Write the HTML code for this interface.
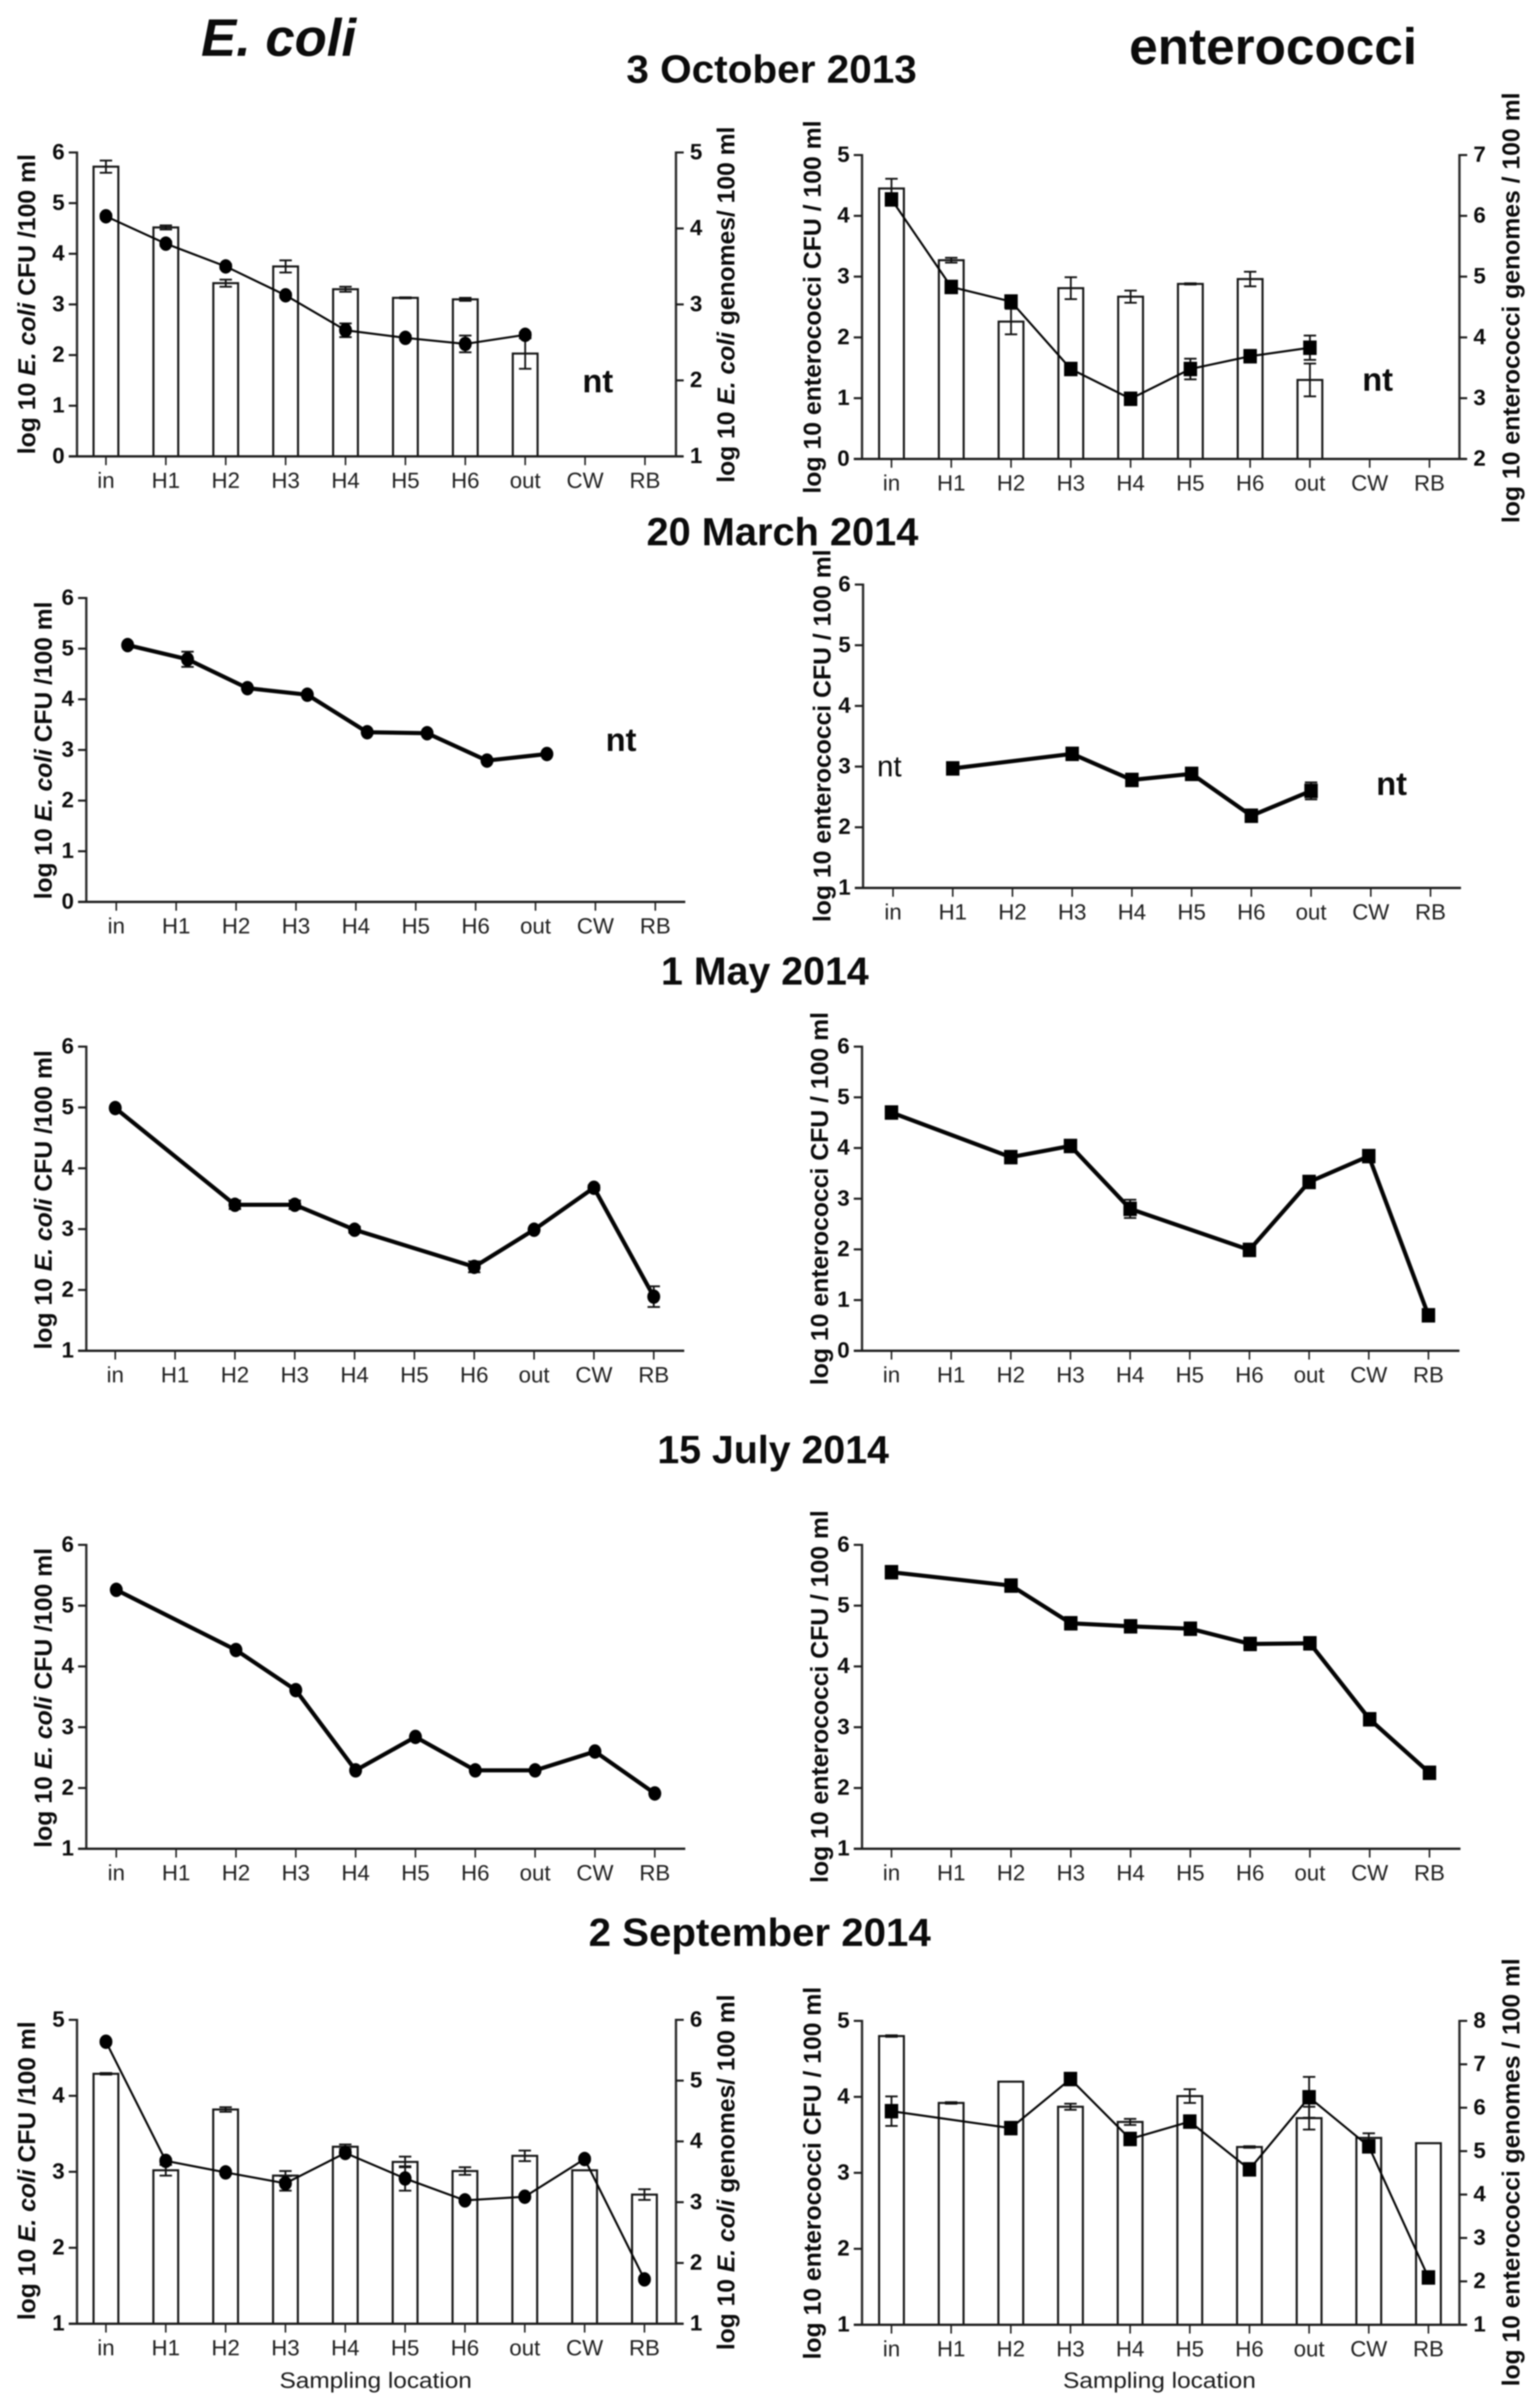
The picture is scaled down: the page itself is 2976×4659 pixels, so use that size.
<!DOCTYPE html>
<html lang="en">
<head>
<meta charset="utf-8">
<title>E. coli and enterococci by sampling location</title>
<style>
  html, body { margin: 0; padding: 0; background: #fff; }
  #figure { display: block; width: 2976px; height: 4659px; filter: blur(1.2px); font-family: "Liberation Sans", Arial, sans-serif; }
  text { fill: #0c0c0c; }
  .date-title { font-size: 76px; font-weight: 700; }
  .col-title { font-weight: 700; }
  .y-title { font-size: 47px; font-weight: 700; }
  .x-title { font-size: 43px; font-weight: 400; fill: #1a1a1a; }
  .nt-bold { font-size: 63px; font-weight: 700; }
  .nt-plain { font-size: 57px; font-weight: 400; }
  .ytick-label { font-size: 43px; font-weight: 700; }
  .xtick-label { font-size: 43px; font-weight: 400; fill: #1f1f1f; }
</style>
</head>
<body>
<svg id="figure" xmlns="http://www.w3.org/2000/svg" width="2976" height="4659" viewBox="0 0 2976 4659">
  <rect x="0" y="0" width="2976" height="4659" fill="#ffffff"/>

  <text class="col-title" x="389" y="108" font-size="102" font-style="italic" textLength="300" lengthAdjust="spacingAndGlyphs">E. coli</text>
  <text class="col-title" x="2185" y="124" font-size="99" textLength="557" lengthAdjust="spacingAndGlyphs">enterococci</text>

  <text class="date-title" x="1212" y="160" textLength="562" lengthAdjust="spacingAndGlyphs">3 October 2013</text>
  <text class="date-title" x="1251" y="1055" textLength="526" lengthAdjust="spacingAndGlyphs">20 March 2014</text>
  <text class="date-title" x="1279" y="1905" textLength="402" lengthAdjust="spacingAndGlyphs">1 May 2014</text>
  <text class="date-title" x="1272" y="2831" textLength="448" lengthAdjust="spacingAndGlyphs">15 July 2014</text>
  <text class="date-title" x="1139" y="3765" textLength="662" lengthAdjust="spacingAndGlyphs">2 September 2014</text>

  <!-- Row 1 axis titles -->
  <text class="y-title" transform="translate(68,879) rotate(-90)" textLength="581" lengthAdjust="spacingAndGlyphs">log 10 <tspan font-style="italic">E. coli</tspan> CFU /100 ml</text>
  <text class="y-title" transform="translate(1421,934) rotate(-90)" textLength="689" lengthAdjust="spacingAndGlyphs">log 10 <tspan font-style="italic">E. coli</tspan> genomes/ 100 ml</text>
  <text class="y-title" transform="translate(1588,955) rotate(-90)" textLength="722" lengthAdjust="spacingAndGlyphs">log 10 enterococci CFU / 100 ml</text>
  <text class="y-title" transform="translate(2940,1012) rotate(-90)" textLength="833" lengthAdjust="spacingAndGlyphs">log 10 enterococci genomes / 100 ml</text>

  <!-- Row 2 axis titles -->
  <text class="y-title" transform="translate(100,1740) rotate(-90)" textLength="576" lengthAdjust="spacingAndGlyphs">log 10 <tspan font-style="italic">E. coli</tspan> CFU /100 ml</text>
  <text class="y-title" transform="translate(1607,1784) rotate(-90)" textLength="721" lengthAdjust="spacingAndGlyphs">log 10 enterococci CFU / 100 ml</text>

  <!-- Row 3 axis titles -->
  <text class="y-title" transform="translate(100,2611) rotate(-90)" textLength="579" lengthAdjust="spacingAndGlyphs">log 10 <tspan font-style="italic">E. coli</tspan> CFU /100 ml</text>
  <text class="y-title" transform="translate(1602,2680) rotate(-90)" textLength="722" lengthAdjust="spacingAndGlyphs">log 10 enterococci CFU / 100 ml</text>

  <!-- Row 4 axis titles -->
  <text class="y-title" transform="translate(100,3575) rotate(-90)" textLength="580" lengthAdjust="spacingAndGlyphs">log 10 <tspan font-style="italic">E. coli</tspan> CFU /100 ml</text>
  <text class="y-title" transform="translate(1602,3643) rotate(-90)" textLength="721" lengthAdjust="spacingAndGlyphs">log 10 enterococci CFU / 100 ml</text>

  <!-- Row 5 axis titles -->
  <text class="y-title" transform="translate(68,4489) rotate(-90)" textLength="578" lengthAdjust="spacingAndGlyphs">log 10 <tspan font-style="italic">E. coli</tspan> CFU /100 ml</text>
  <text class="y-title" transform="translate(1421,4547) rotate(-90)" textLength="688" lengthAdjust="spacingAndGlyphs">log 10 <tspan font-style="italic">E. coli</tspan> genomes/ 100 ml</text>
  <text class="y-title" transform="translate(1588,4565) rotate(-90)" textLength="721" lengthAdjust="spacingAndGlyphs">log 10 enterococci CFU / 100 ml</text>
  <text class="y-title" transform="translate(2940,4617) rotate(-90)" textLength="828" lengthAdjust="spacingAndGlyphs">log 10 enterococci genomes / 100 ml</text>
  <text class="x-title" x="541" y="4620" textLength="372" lengthAdjust="spacingAndGlyphs">Sampling location</text>
  <text class="x-title" x="2057" y="4620" textLength="373" lengthAdjust="spacingAndGlyphs">Sampling location</text>

  <!-- not tested annotations -->
  <text class="nt-bold" x="1127" y="759">nt</text>
  <text class="nt-bold" x="2636" y="756">nt</text>
  <text class="nt-bold" x="1172" y="1453">nt</text>
  <text class="nt-plain" x="1697" y="1502">nt</text>
  <text class="nt-bold" x="2663" y="1538">nt</text>

  <g id="panels"></g>
</svg>

<script>
// Shared categories and tick labels
const categories = ['in', 'H1', 'H2', 'H3', 'H4', 'H5', 'H6', 'out', 'CW', 'RB'];
const ticks0to6 = [0, 1, 2, 3, 4, 5, 6];
const ticks0to5 = [0, 1, 2, 3, 4, 5];
const ticks1to6 = [1, 2, 3, 4, 5, 6];
const ticks1to5 = [1, 2, 3, 4, 5];
const ticks2to7 = [2, 3, 4, 5, 6, 7];
const ticks1to8 = [1, 2, 3, 4, 5, 6, 7, 8];

// 3 October 2013, E. coli
const oct13EcoliCfu = [5.72, 4.52, 3.42, 3.75, 3.30, 3.13, 3.10, 2.03, null, null];
const oct13EcoliCfuErr = [0.12, 0.04, 0.07, 0.12, 0.05, 0.01, 0.03, 0.30, null, null];
const oct13EcoliGenomes = [4.16, 3.80, 3.50, 3.12, 2.66, 2.56, 2.48, 2.60, null, null];
const oct13EcoliGenomesErr = [0.03, 0.03, 0.03, 0.03, 0.09, 0.03, 0.11, 0.03, null, null];

// 3 October 2013, enterococci
const oct13EntCfu = [4.45, 3.27, 2.26, 2.81, 2.67, 2.88, 2.96, 1.30, null, null];
const oct13EntCfuErr = [0.16, 0.04, 0.21, 0.18, 0.10, 0.01, 0.12, 0.27, null, null];
const oct13EntGenomes = [6.27, 4.83, 4.59, 3.48, 2.99, 3.48, 3.69, 3.83, null, null];
const oct13EntGenomesErr = [0.03, 0.03, 0.03, 0.03, 0.03, 0.17, 0.03, 0.20, null, null];

// 20 March 2014
const mar14EcoliCfu = [5.07, 4.79, 4.22, 4.09, 3.35, 3.33, 2.79, 2.92, null, null];
const mar14EcoliCfuErr = [0.02, 0.15, 0.02, 0.02, 0.02, 0.02, 0.02, 0.02, null, null];
const mar14EntCfu = [null, 2.97, null, 3.21, 2.78, 2.88, 2.19, 2.60, null, null];
const mar14EntCfuErr = [null, 0.02, null, 0.02, 0.02, 0.02, 0.02, 0.14, null, null];

// 1 May 2014
const may14EcoliCfu = [4.99, null, 3.40, 3.40, 2.99, null, 2.38, 2.99, 3.68, 1.89];
const may14EcoliCfuErr = [0.02, null, 0.07, 0.07, 0.05, null, 0.09, 0.02, 0.04, 0.17];
const may14EntCfu = [4.70, null, 3.82, 4.04, 2.80, null, 1.99, 3.33, 3.84, 0.70];
const may14EntCfuErr = [0.02, null, 0.02, 0.02, 0.18, null, 0.02, 0.02, 0.02, 0.02];

// 15 July 2014
const jul14EcoliCfu = [5.26, null, 4.27, 3.61, 2.29, 2.84, 2.29, 2.29, 2.60, 1.91];
const jul14EntCfu = [5.55, null, 5.33, 4.71, 4.66, 4.62, 4.37, 4.38, 3.13, 2.25];

// 2 September 2014, E. coli
const sep14EcoliCfu = [4.29, 3.02, 3.82, 2.95, 3.33, 3.13, 3.01, 3.21, 3.02, 2.70];
const sep14EcoliCfuErr = [0.01, 0.07, 0.03, 0.06, 0.03, 0.07, 0.05, 0.07, 0.00, 0.07];
const sep14EcoliGenomes = [5.64, 3.68, 3.49, 3.31, 3.81, 3.39, 3.03, 3.09, 3.71, 1.73];
const sep14EcoliGenomesErr = [0.03, 0.03, 0.03, 0.12, 0.03, 0.20, 0.03, 0.03, 0.03, 0.03];

// 2 September 2014, enterococci
const sep14EntCfu = [4.80, 3.92, 4.20, 3.87, 3.67, 4.01, 3.34, 3.72, 3.46, 3.39];
const sep14EntCfuErr = [0.01, 0.01, 0.00, 0.04, 0.04, 0.09, 0.01, 0.15, 0.06, 0.00];
const sep14EntGenomes = [5.92, null, 5.53, 6.66, 5.28, 5.68, 4.58, 6.24, 5.11, 2.09];
const sep14EntGenomesErr = [0.34, null, 0.03, 0.10, 0.03, 0.05, 0.03, 0.47, 0.10, 0.03];

const SVG_NS = 'http://www.w3.org/2000/svg';
const INK = '#111111';

function mk(parent, tag, attrs) {
  const el = document.createElementNS(SVG_NS, tag);
  Object.keys(attrs).forEach(function (k) { el.setAttribute(k, attrs[k]); });
  parent.appendChild(el);
  return el;
}

function linearScale(domainMin, domainMax, pxMin, pxMax) {
  return function (v) {
    return pxMin + (v - domainMin) / (domainMax - domainMin) * (pxMax - pxMin);
  };
}

function drawErrorBar(parent, x, yHigh, yLow, width, label) {
  const stem = mk(parent, 'line', { x1: x, x2: x, y1: yHigh, y2: yLow, stroke: INK, 'stroke-width': 3.5 });
  
  
  const capTop = mk(parent, 'line', { x1: x - 12, x2: x + 12, y1: yHigh, y2: yHigh, stroke: INK, 'stroke-width': width });
  
  
  const capBottom = mk(parent, 'line', { x1: x - 12, x2: x + 12, y1: yLow, y2: yLow, stroke: INK, 'stroke-width': width });
  
  
}

function drawPanel(cfg) {
  const root = document.getElementById('panels');
  const g = mk(root, 'g', {});
  
  

  const yT = cfg.yTicks;
  const yLeft = linearScale(yT[0], yT[yT.length - 1], cfg.bottom, cfg.top);
  const xAt = linearScale(0, categories.length - 1, cfg.firstX, cfg.lastX);
  let yRight = null;
  if (cfg.yTicksRight) {
    yRight = linearScale(cfg.yTicksRight[0], cfg.yTicksRight[cfg.yTicksRight.length - 1], cfg.bottom, cfg.top);
  }
  const yLine = yRight || yLeft;

  // bars
  if (cfg.bars) {
    cfg.bars.forEach(function (v, i) {
      if (v === null) return;
      const x = xAt(i);
      const bar = mk(g, 'rect', { x: x - 24, y: yLeft(v), width: 48, height: cfg.bottom - yLeft(v), fill: '#ffffff', stroke: '#161616', 'stroke-width': 4 });
      
      
      const e = cfg.barErr[i];
      if (e !== null && e > 0) {
        drawErrorBar(g, x, yLeft(v + e), yLeft(v - e), 3.5, cfg.name + '-bar-' + categories[i]);
      }
    });
  }

  // axes
  const leftAxis = mk(g, 'line', { x1: cfg.axisX, x2: cfg.axisX, y1: cfg.top - 2, y2: cfg.bottom, stroke: '#2b2b2b', 'stroke-width': 4.5 });
  
  
  const bottomAxis = mk(g, 'line', { x1: cfg.axisX - 16, x2: cfg.xEnd, y1: cfg.bottom, y2: cfg.bottom, stroke: '#1c1c1c', 'stroke-width': 4.5 });
  
  

  yT.forEach(function (t) {
    const tick = mk(g, 'line', { x1: cfg.axisX - 16, x2: cfg.axisX, y1: yLeft(t), y2: yLeft(t), stroke: '#1c1c1c', 'stroke-width': 4 });
    
    
    const lab = mk(g, 'text', { class: 'ytick-label', x: cfg.axisX - 24, y: yLeft(t) + 13, 'text-anchor': 'end' });
    lab.textContent = String(t);
    
    
  });

  if (yRight) {
    const rightAxis = mk(g, 'line', { x1: cfg.rightX, x2: cfg.rightX, y1: cfg.top - 2, y2: cfg.bottom, stroke: '#2b2b2b', 'stroke-width': 4.5 });
    
    
    cfg.yTicksRight.forEach(function (t) {
      const tick = mk(g, 'line', { x1: cfg.rightX, x2: cfg.rightX + 15, y1: yRight(t), y2: yRight(t), stroke: '#1c1c1c', 'stroke-width': 4 });
      
      
      const lab = mk(g, 'text', { class: 'ytick-label', x: cfg.rightX + 27, y: yRight(t) + 13, 'text-anchor': 'start' });
      lab.textContent = String(t);
      
      
    });
  }

  categories.forEach(function (c, i) {
    const x = xAt(i);
    const tick = mk(g, 'line', { x1: x, x2: x, y1: cfg.bottom, y2: cfg.bottom + 17, stroke: '#1c1c1c', 'stroke-width': 3 });
    
    
    const lab = mk(g, 'text', { class: 'xtick-label', x: x, y: cfg.bottom + 61, 'text-anchor': 'middle' });
    lab.textContent = c;
    
    
  });

  // line series
  const shift = cfg.pointShift || 0;
  const pts = [];
  cfg.line.forEach(function (v, i) {
    if (v !== null) pts.push((xAt(i) + shift) + ',' + yLine(v));
  });
  const path = mk(g, 'polyline', { points: pts.join(' '), fill: 'none', stroke: '#050505', 'stroke-width': cfg.lineWidth, 'stroke-linejoin': 'round' });
  
  

  cfg.line.forEach(function (v, i) {
    if (v === null) return;
    const x = xAt(i) + shift;
    const y = yLine(v);
    const e = cfg.lineErr ? cfg.lineErr[i] : null;
    if (e !== null && e > 0) {
      drawErrorBar(g, x, yLine(v + e), yLine(v - e), 3.5, cfg.name + '-point-' + categories[i]);
    }
    let marker;
    if (cfg.marker === 'circle') {
      marker = mk(g, 'ellipse', { cx: x, cy: y, rx: 12.5, ry: 14, fill: '#000000' });
    } else {
      marker = mk(g, 'rect', { x: x - 13, y: y - 14, width: 26, height: 28, fill: '#000000' });
    }
    
    
  });
}

drawPanel({ name: 'oct13-ecoli', axisX: 149, top: 295, bottom: 883, firstX: 205, lastX: 1248, xEnd: 1322, rightX: 1308,
  yTicks: ticks0to6, yTicksRight: ticks1to5, bars: oct13EcoliCfu, barErr: oct13EcoliCfuErr,
  line: oct13EcoliGenomes, lineErr: oct13EcoliGenomesErr, marker: 'circle', lineWidth: 4 });

drawPanel({ name: 'oct13-enterococci', axisX: 1668, top: 300, bottom: 888, firstX: 1725, lastX: 2766, xEnd: 2837, rightX: 2824,
  yTicks: ticks0to5, yTicksRight: ticks2to7, bars: oct13EntCfu, barErr: oct13EntCfuErr,
  line: oct13EntGenomes, lineErr: oct13EntGenomesErr, marker: 'square', lineWidth: 4 });

drawPanel({ name: 'mar14-ecoli', axisX: 167, top: 1157, bottom: 1745, firstX: 225, lastX: 1268, xEnd: 1326,
  yTicks: ticks0to6, line: mar14EcoliCfu, lineErr: mar14EcoliCfuErr, marker: 'circle', lineWidth: 8, pointShift: 22 });

drawPanel({ name: 'mar14-enterococci', axisX: 1670, top: 1131, bottom: 1718, firstX: 1728, lastX: 2768, xEnd: 2827,
  yTicks: ticks1to6, line: mar14EntCfu, lineErr: mar14EntCfuErr, marker: 'square', lineWidth: 8 });

drawPanel({ name: 'may14-ecoli', axisX: 167, top: 2025, bottom: 2613.5, firstX: 223, lastX: 1265, xEnd: 1324,
  yTicks: ticks1to6, line: may14EcoliCfu, lineErr: may14EcoliCfuErr, marker: 'circle', lineWidth: 8 });

drawPanel({ name: 'may14-enterococci', axisX: 1668, top: 2025, bottom: 2613.5, firstX: 1725, lastX: 2764, xEnd: 2824,
  yTicks: ticks0to6, line: may14EntCfu, lineErr: may14EntCfuErr, marker: 'square', lineWidth: 8 });

drawPanel({ name: 'jul14-ecoli', axisX: 167, top: 2989, bottom: 3577, firstX: 225, lastX: 1267, xEnd: 1326,
  yTicks: ticks1to6, line: jul14EcoliCfu, marker: 'circle', lineWidth: 8 });

drawPanel({ name: 'jul14-enterococci', axisX: 1668, top: 2989, bottom: 3577, firstX: 1725, lastX: 2766, xEnd: 2826,
  yTicks: ticks1to6, line: jul14EntCfu, marker: 'square', lineWidth: 8 });

drawPanel({ name: 'sep14-ecoli', axisX: 149, top: 3908, bottom: 4496, firstX: 205, lastX: 1247, xEnd: 1322, rightX: 1308,
  yTicks: ticks1to5, yTicksRight: ticks1to6, bars: sep14EcoliCfu, barErr: sep14EcoliCfuErr,
  line: sep14EcoliGenomes, lineErr: sep14EcoliGenomesErr, marker: 'circle', lineWidth: 4 });

drawPanel({ name: 'sep14-enterococci', axisX: 1668, top: 3910, bottom: 4498, firstX: 1725, lastX: 2764, xEnd: 2837, rightX: 2824,
  yTicks: ticks1to5, yTicksRight: ticks1to8, bars: sep14EntCfu, barErr: sep14EntCfuErr,
  line: sep14EntGenomes, lineErr: sep14EntGenomesErr, marker: 'square', lineWidth: 4 });
</script>
</body>
</html>
